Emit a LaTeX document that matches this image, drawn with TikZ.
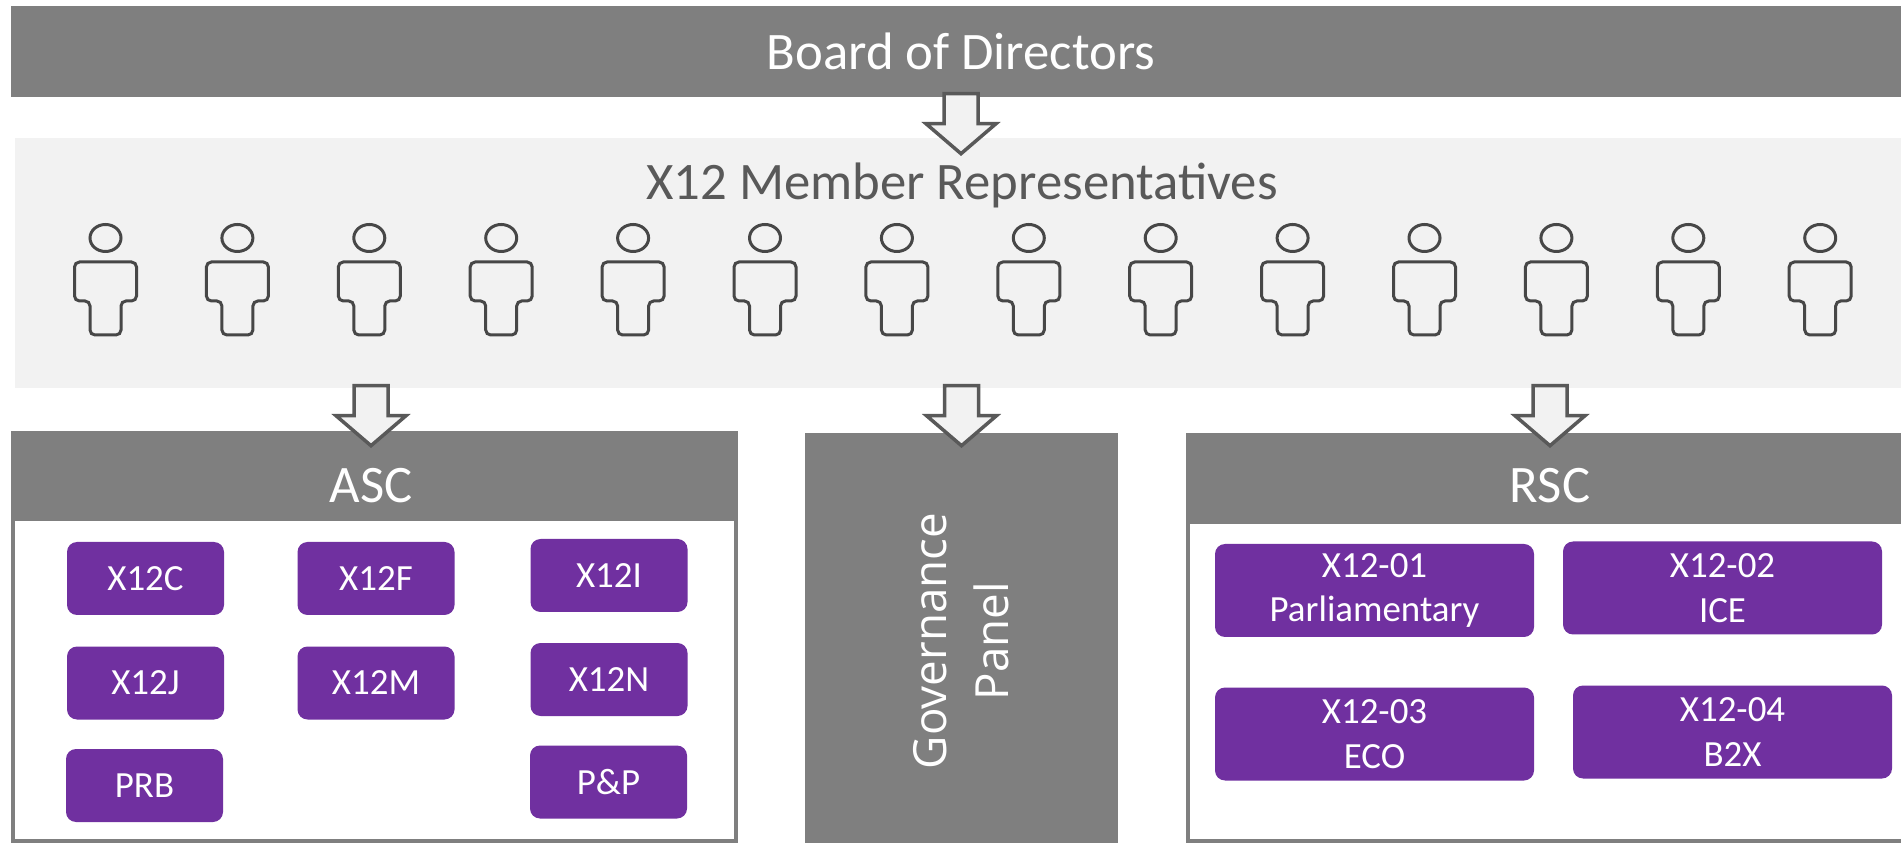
\documentclass[tikz,border=0pt]{standalone}
\usepackage{fontspec}
\setmainfont{Carlito}
\newfontfamily\govfont{Open Sans}
\usetikzlibrary{calc}
\definecolor{bargray}{HTML}{7F7F7F}
\definecolor{bandgray}{HTML}{F2F2F2}
\definecolor{icongray}{HTML}{474747}
\definecolor{arrowgray}{HTML}{595959}
\definecolor{labelgray}{HTML}{595959}
\definecolor{wgpurple}{HTML}{7030A0}
\begin{document}
\begin{tikzpicture}[x=0.1mm,y=-0.1mm,
  bar/.style={fill=bargray,draw=none,inner sep=0pt},
  title/.style={text=white,font=\fontsize{15}{18}\selectfont,inner sep=0pt,anchor=base},
  frame/.style={draw=bargray,line width=0.45mm,fill=white},
  wg/.style={fill=wgpurple,rounded corners=1mm,text=white,align=center,inner sep=0pt,
    font=\fontsize{10.5}{12.8}\selectfont},
  ascwg/.style={wg,minimum width=15.7mm,minimum height=7.3mm},
  rscwg/.style={wg,minimum width=31.9mm,minimum height=9.3mm},
  blockarrow/.style={draw=arrowgray,fill=bandgray,line width=0.35mm},
  person/.style={draw=icongray,line width=0.3mm,rounded corners=0.5mm},
  pics/blockdown/.style={code={
    \draw[blockarrow] (-17,0) -- (17,0) -- (17,30) -- (35,30) -- (0,60) -- (-35,30) -- (-17,30) -- cycle;}},
  pics/member/.style={code={
    \draw[person] (0,238) ellipse[x radius=1.55mm,y radius=1.35mm];
    \draw[person] (-15.5,335) -- (-15.5,301) -- (-31,301) -- (-31,262) -- (31,262)
      -- (31,301) -- (15.5,301) -- (15.5,335) -- cycle;}}]
  \useasboundingbox (0,0) rectangle (1901,843);

  % board
  \node[bar,minimum width=190mm,minimum height=9.1mm] (board) at (961,51.5) {};
  \node[title] (boardlabel) at (961,70) {Board of Directors};

  % member representatives
  \node[fill=bandgray,inner sep=0pt,minimum width=189mm,minimum height=25mm] (reps) at (960,263) {};
  \node[text=labelgray,font=\fontsize{15}{18}\selectfont,inner sep=0pt,anchor=base] (repslabel) at (962,200) {X12 Member Representatives};
  \foreach \i in {0,...,13}
    \pic at ({105.5+131.9*\i},0) {member};

  % ASC
  \draw[frame] (13,433) rectangle (736,841);
  \node[bar,minimum width=72.7mm,minimum height=9mm] (asc) at (374.5,476) {};
  \node[title] (asclabel) at (371,503) {ASC};
  \node[ascwg] (x12c) at (145.5,578.5) {X12C};
  \node[ascwg] (x12f) at (376,578.5) {X12F};
  \node[ascwg] (x12i) at (609,575.5) {X12I};
  \node[ascwg] (x12j) at (145.5,683) {X12J};
  \node[ascwg] (x12m) at (376,683) {X12M};
  \node[ascwg] (x12n) at (609,679.5) {X12N};
  \node[ascwg] (prb) at (144.5,785.5) {PRB};
  \node[ascwg] (pp) at (608.5,782) {P\&P};

  % governance panel
  \node[bar,minimum width=31.3mm,minimum height=42mm] (gov) at (961.5,643) {};
  \node[text=white,inner sep=0pt,align=center,rotate=90,
    font=\govfont\fontsize{13}{17.6}\selectfont] (govlabel) at (961.5,641) {Governance\\Panel};

  % RSC
  \draw[frame] (1188,435) rectangle (1920,841);
  \node[bar,minimum width=73.4mm,minimum height=9.1mm] (rsc) at (1553,478.5) {};
  \node[title] (rsclabel) at (1550,503) {RSC};
  \node[rscwg] (r01) at (1374.5,590.5) {X12-01\\Parliamentary};
  \node[rscwg] (r02) at (1722.5,588) {X12-02\\ICE};
  \node[rscwg] (r03) at (1374.5,734) {X12-03\\ECO};
  \node[rscwg] (r04) at (1732.5,732) {X12-04\\B2X};

  % arrows
  \pic at ($(board.south)+(0,-4)$) {blockdown};
  \pic at ($(reps.south -| asclabel)+(0,-3)$) {blockdown};
  \pic at ($(reps.south -| gov.north)+(0,-3)$) {blockdown};
  \pic at ($(reps.south -| rsclabel)+(0,-3)$) {blockdown};
\end{tikzpicture}
\end{document}
